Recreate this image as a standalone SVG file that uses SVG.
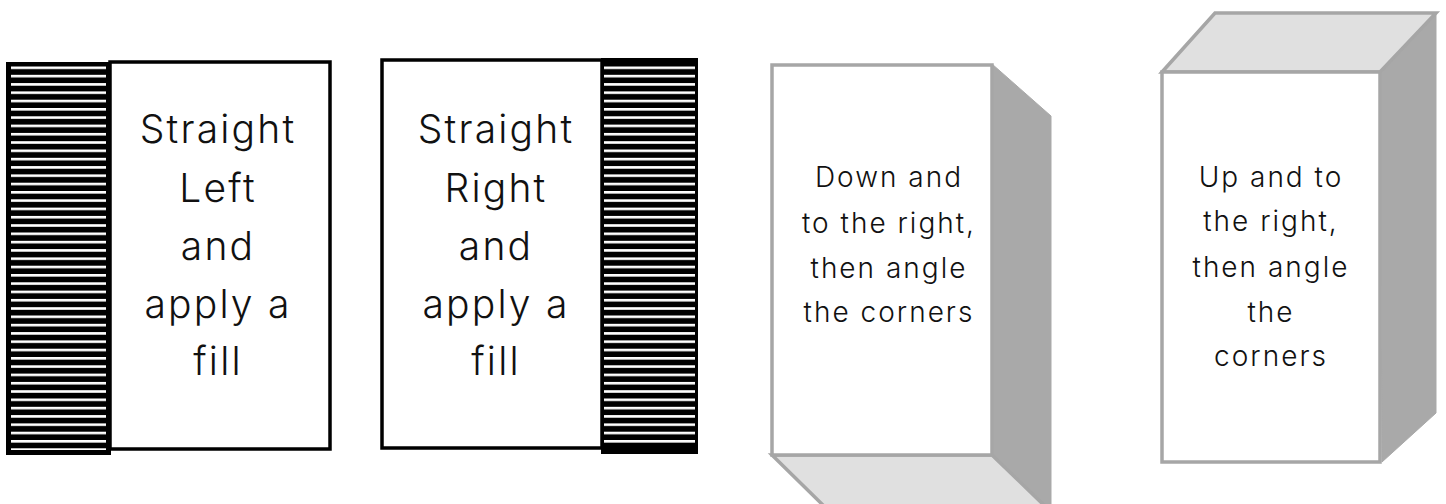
<svg xmlns="http://www.w3.org/2000/svg" width="1446" height="504" viewBox="0 0 1446 504">
<style>
.lbl{font-family:Inter,"Liberation Sans",sans-serif;fill:#111;text-anchor:middle;font-weight:300}
.big{font-size:39px;letter-spacing:2.2px}
.small{font-size:28px;letter-spacing:2px}
.frame{fill:#fff;stroke:#000;stroke-width:3.5}
.hatchbg{fill:#000}
.front{fill:#fff;stroke:#a6a6a6;stroke-width:3.5}
.side{fill:#a9a9a9;stroke:#a9a9a9;stroke-width:1}
.cap{fill:#e0e0e0;stroke:#a6a6a6;stroke-width:3.5}
</style>
<defs>
<pattern id="stripes" patternUnits="userSpaceOnUse" x="0" y="66.5" width="10" height="8.3">
<rect x="0" y="0" width="10" height="2.6" fill="#fff"/>
</pattern>
</defs>
<g id="node-left">
<rect class="hatchbg" x="6" y="62" width="105" height="393"/>
<rect x="11" y="66" width="95" height="384" fill="url(#stripes)"/>
<rect class="frame" x="110" y="62" width="220" height="387"/>
<text class="lbl big" x="218" y="143">Straight</text>
<text class="lbl big" x="218" y="202">Left</text>
<text class="lbl big" x="218" y="260">and</text>
<text class="lbl big" x="218" y="318">apply a</text>
<text class="lbl big" x="218" y="375">fill</text>
</g>
<g id="node-right">
<rect class="frame" x="382" y="60" width="220" height="388"/>
<rect class="hatchbg" x="601" y="58" width="97" height="396"/>
<rect x="604" y="62" width="91" height="381" fill="url(#stripes)"/>
<text class="lbl big" x="496" y="143">Straight</text>
<text class="lbl big" x="496" y="202">Right</text>
<text class="lbl big" x="496" y="260">and</text>
<text class="lbl big" x="496" y="318">apply a</text>
<text class="lbl big" x="496" y="375">fill</text>
</g>
<g id="node-down">
<polygon class="side" points="992,64 1051,116 1051,510 992,510"/>
<polygon class="cap" points="772,455 992,455 1051,512 830,512"/>
<rect class="front" x="772" y="65" width="220" height="390"/>
<text class="lbl small" x="889" y="187">Down and</text>
<text class="lbl small" x="889" y="233">to the right,</text>
<text class="lbl small" x="889" y="278">then angle</text>
<text class="lbl small" x="889" y="322">the corners</text>
</g>
<g id="node-up">
<polygon class="side" points="1380,72 1436,13 1436,413 1382,462"/>
<polygon class="cap" points="1162,72 1215,13 1436,13 1380,72"/>
<rect class="front" x="1162" y="72" width="218" height="390"/>
<text class="lbl small" x="1271" y="187">Up and to</text>
<text class="lbl small" x="1271" y="231">the right,</text>
<text class="lbl small" x="1271" y="277">then angle</text>
<text class="lbl small" x="1271" y="322">the</text>
<text class="lbl small" x="1271" y="366">corners</text>
</g>
<g id="connectors"/>
</svg>
